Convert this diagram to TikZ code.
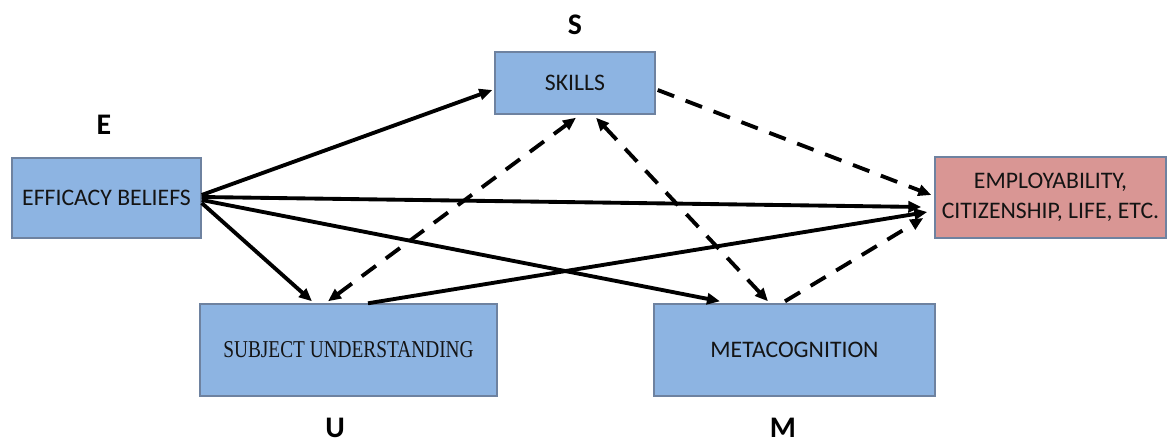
\documentclass[tikz,border=0pt]{standalone}
\usepackage{fontspec}
\setmainfont{Carlito}
\newfontfamily\timesfont{Liberation Serif}
\usetikzlibrary{arrows.meta}
\definecolor{boxblue}{RGB}{141,180,226}
\definecolor{boxpink}{RGB}{217,150,148}
\definecolor{boxline}{RGB}{110,130,160}
\definecolor{inktext}{RGB}{20,20,20}
\begin{document}
\begin{tikzpicture}[
  box/.style={draw=boxline,line width=0.8pt,fill=boxblue,inner sep=0pt,align=center,text=inktext,font=\fontsize{13.5}{17}\selectfont},
  letter/.style={font=\fontsize{17}{20}\selectfont\bfseries},
  solidarrow/.style={line width=2.2pt,-{Triangle[length=0.26cm,width=0.22cm]}},
  dasharrow/.style={solidarrow,dash pattern=on 10pt off 7pt},
  twoway/.style={dasharrow,{Triangle[length=0.26cm,width=0.22cm]}-{Triangle[length=0.26cm,width=0.22cm]}}]
\useasboundingbox (0,0) rectangle (23.34,8.86);

\node[box,minimum width=3.78cm,minimum height=1.60cm] (eff) at (2.13,4.90) {EFFICACY BELIEFS};
\node[box,minimum width=3.20cm,minimum height=1.24cm] (skills) at (11.50,7.20) {SKILLS};
\node[box,fill=boxpink,minimum width=4.62cm,minimum height=1.62cm] (emp) at (21.01,4.91) {EMPLOYABILITY,\\CITIZENSHIP, LIFE, ETC.};
\node[box,minimum width=5.94cm,minimum height=1.84cm] (subj) at (6.97,1.86) {\timesfont\fontsize{11}{13}\selectfont\scalebox{1}[1.25]{SUBJECT UNDERSTANDING}};
\node[box,minimum width=5.62cm,minimum height=1.84cm] (meta) at (15.89,1.86) {METACOGNITION};

\node[letter] (lE) at (2.08,6.36) {E};
\node[letter] (lS) at (11.50,8.36) {S};
\node[letter] (lU) at (6.70,0.30) {U};
\node[letter] (lM) at (15.66,0.30) {M};

\draw[solidarrow] ([yshift=0.06cm]eff.east) -- ([xshift=-0.04cm,yshift=-0.14cm]skills.west);
\draw[solidarrow] ([yshift=0.02cm]eff.east) -- ([xshift=-0.26cm,yshift=-0.19cm]emp.west);
\draw[solidarrow] ([yshift=-0.04cm]eff.east) -- ([xshift=-1.49cm,yshift=0.04cm]meta.north);
\draw[solidarrow] ([yshift=-0.10cm]eff.east) -- ([xshift=-0.73cm,yshift=0.04cm]subj.north);
\draw[solidarrow] ([xshift=0.39cm]subj.north) -- ([xshift=-0.14cm,yshift=-0.29cm]emp.west);

\draw[dasharrow] ([xshift=0.04cm,yshift=-0.14cm]skills.east) -- ([xshift=-0.06cm,yshift=0.05cm]emp.west);
\draw[dasharrow] ([xshift=-0.19cm,yshift=0.04cm]meta.north) -- ([xshift=-0.22cm,yshift=-0.41cm]emp.west);
\draw[twoway] ([xshift=-0.41cm,yshift=0.04cm]subj.north) -- ([xshift=0.02cm,yshift=-0.06cm]skills.south);
\draw[twoway] ([xshift=-0.53cm,yshift=0.04cm]meta.north) -- ([xshift=0.42cm,yshift=-0.06cm]skills.south);
\end{tikzpicture}
\end{document}
